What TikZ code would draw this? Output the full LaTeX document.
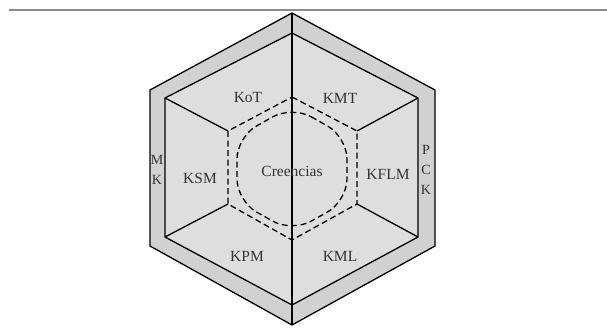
\documentclass[tikz,border=0pt]{standalone}
\usepackage{fontspec}
\setmainfont{Liberation Serif}

\begin{document}
\begin{tikzpicture}[x=1pt,y=-1pt,
    edge/.style={line width=1.3pt, line join=miter},
    dashline/.style={line width=1.3pt, dash pattern=on 6pt off 3.5pt},
    lbl/.style={font=\fontsize{15.5}{17}\selectfont, inner sep=0pt, text=black!80}]
    \useasboundingbox (0,0) rectangle (607,328);
    \draw[black!45, line width=1.6pt] (9,10) -- (607,10);
    % hexagons
    \coordinate (o1) at (292,13);  \coordinate (o2) at (435,90);  \coordinate (o3) at (435,246);
    \coordinate (o4) at (292,325); \coordinate (o5) at (150,246); \coordinate (o6) at (150,90);
    \coordinate (i1) at (292,33);  \coordinate (i2) at (418,98);  \coordinate (i3) at (418,237);
    \coordinate (i4) at (292,305); \coordinate (i5) at (165,237); \coordinate (i6) at (165,98);
    \coordinate (d1) at (292,97);  \coordinate (d2) at (357,131); \coordinate (d3) at (357,204);
    \coordinate (d4) at (292,240); \coordinate (d5) at (228,204); \coordinate (d6) at (228,131);
    \coordinate (c1) at (292,106); \coordinate (c2) at (347,137); \coordinate (c3) at (347,201);
    \coordinate (c4) at (292,232); \coordinate (c5) at (237,201); \coordinate (c6) at (237,137);
    \filldraw[edge, fill=black!18] (o1) -- (o2) -- (o3) -- (o4) -- (o5) -- (o6) -- cycle;
    \filldraw[edge, fill=black!13] (i1) -- (i2) -- (i3) -- (i4) -- (i5) -- (i6) -- cycle;
    \draw[edge] (o1) -- (o4);
    \foreach \k in {2,3,5,6}
      \draw[edge] (i\k) -- (d\k);
    \draw[dashline] (d1) -- (d2) -- (d3) -- (d4) -- (d5) -- (d6) -- cycle;
    \draw[dashline, rounded corners=22pt] (c1) -- (c2) -- (c3) -- (c4) -- (c5) -- (c6) -- cycle;
    % labels
    \node[lbl] (kot) at (248,98) {KoT};
    \node[lbl] (kmt) at (340,98) {KMT};
    \node[lbl] (ksm) at (200,178) {KSM};
    \node[lbl] (kflm) at (388,174) {KFLM};
    \node[lbl] (bel) at (292,171) {Creencias};
    \node[lbl] (kpm) at (247,256) {KPM};
    \node[lbl] (kml) at (340,256) {KML};
    \node[lbl, align=center, font=\fontsize{14}{20}\selectfont] (mk) at (157,170) {M\\K};
    \node[lbl, align=center, font=\fontsize{14}{20}\selectfont] (pck) at (426,170) {P\\C\\K};
\end{tikzpicture}
\end{document}
